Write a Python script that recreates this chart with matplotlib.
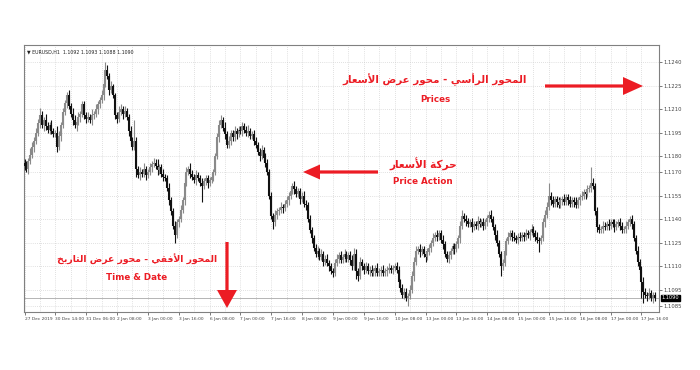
import numpy as np
import matplotlib
matplotlib.use("Agg")
import matplotlib.pyplot as plt
import matplotlib.transforms as mtransforms
from matplotlib.patches import FancyArrow

# ── EURUSD H1 bars, pips above 1.1000 ─────────────────────────────────────────
BASE = 1.1000
opens = [
    176, 174, 172, 177, 181, 186, 190, 195, 201, 206, 200, 203, 199, 197, 200, 196,
    194, 195, 186, 193, 200, 208, 214, 219, 212, 207, 203, 200, 202, 205, 207, 213,
    206, 204, 205, 203, 206, 207, 210, 213, 216, 219, 226, 235, 231, 222, 225, 219,
    206, 204, 208, 210, 207, 209, 205, 196, 190, 186, 190, 172, 168, 170, 169, 172,
    168, 170, 173, 175, 176, 174, 171, 173, 169, 167, 166, 160, 152, 145, 136, 130,
    138, 140, 146, 152, 163, 170, 172, 169, 167, 165, 168, 166, 163, 161, 164, 166,
    163, 165, 167, 170, 180, 192, 200, 203, 198, 194, 187, 190, 195, 192, 196, 194,
    197, 196, 199, 197, 195, 196, 193, 194, 190, 187, 183, 180, 184, 179, 176, 170,
    155, 142, 138, 143, 145, 146, 148, 147, 150, 152, 155, 158, 161, 159, 156, 158,
    153, 155, 150, 149, 140, 133, 128, 122, 118, 120, 116, 118, 113, 115, 112, 110,
    107, 106, 112, 115, 117, 114, 116, 118, 115, 117, 114, 110, 118, 107, 104, 113,
    110, 108, 110, 107, 108, 106, 107, 109, 106, 107, 108, 106, 107, 108, 109, 108,
    109, 110, 108, 100, 96, 92, 94, 90, 91, 95, 104, 113, 120, 121, 119, 121,
    118, 116, 119, 122, 125, 128, 130, 129, 131, 127, 124, 118, 115, 117, 120, 123,
    121, 124, 128, 136, 142, 140, 139, 137, 138, 135, 137, 136, 139, 137, 138, 136,
    138, 141, 143, 140, 135, 130, 125, 118, 110, 112, 120, 126, 129, 131, 129, 128,
    127, 129, 128, 130, 129, 131, 130, 132, 134, 131, 129, 127, 126, 128, 138, 143,
    148, 155, 152, 150, 153, 151, 149, 152, 153, 151, 154, 152, 150, 152, 151, 149,
    152, 154, 155, 157, 156, 159, 160, 163, 161, 145, 135, 133, 134, 136, 135, 137,
    136, 138, 137, 135, 137, 138, 136, 133, 134, 136, 138, 140, 137, 128, 120, 113,
    108, 100, 94, 92, 91, 93, 90, 92,
]
closes = [
    174, 172, 177, 181, 186, 190, 195, 201, 206, 200, 203, 199, 197, 200, 196, 194,
    195, 186, 193, 200, 208, 214, 219, 212, 207, 203, 200, 202, 205, 207, 213, 206,
    204, 205, 203, 206, 207, 210, 213, 216, 219, 226, 235, 231, 222, 225, 219, 206,
    204, 208, 210, 207, 209, 205, 196, 190, 186, 190, 172, 168, 170, 169, 172, 168,
    170, 173, 175, 176, 174, 171, 173, 169, 167, 166, 160, 152, 145, 136, 130, 138,
    140, 146, 152, 163, 170, 172, 169, 167, 165, 168, 166, 163, 161, 164, 166, 163,
    165, 167, 170, 180, 192, 200, 203, 198, 194, 187, 190, 195, 192, 196, 194, 197,
    196, 199, 197, 195, 196, 193, 194, 190, 187, 183, 180, 184, 179, 176, 170, 155,
    142, 138, 143, 145, 146, 148, 147, 150, 152, 155, 158, 161, 159, 156, 158, 153,
    155, 150, 149, 140, 133, 128, 122, 118, 120, 116, 118, 113, 115, 112, 110, 107,
    106, 112, 115, 117, 114, 116, 118, 115, 117, 114, 110, 118, 107, 104, 113, 110,
    108, 110, 107, 108, 106, 107, 109, 106, 107, 108, 106, 107, 108, 109, 108, 109,
    110, 108, 100, 96, 92, 94, 90, 91, 95, 104, 113, 120, 121, 119, 121, 118,
    116, 119, 122, 125, 128, 130, 129, 131, 127, 124, 118, 115, 117, 120, 123, 121,
    124, 128, 136, 142, 140, 139, 137, 138, 135, 137, 136, 139, 137, 138, 136, 138,
    141, 143, 140, 135, 130, 125, 118, 110, 112, 120, 126, 129, 131, 129, 128, 127,
    129, 128, 130, 129, 131, 130, 132, 134, 131, 129, 127, 126, 128, 138, 143, 148,
    155, 152, 150, 153, 151, 149, 152, 153, 151, 154, 152, 150, 152, 151, 149, 152,
    154, 155, 157, 156, 159, 160, 163, 161, 145, 135, 133, 134, 136, 135, 137, 136,
    138, 137, 135, 137, 138, 136, 133, 134, 136, 138, 140, 137, 128, 120, 113, 108,
    100, 94, 92, 91, 93, 90, 92, 90,
]
# wick lengths (pips) above / below the body
wick_up = [
    2, 3, 2, 4, 3, 2, 3, 3, 5, 3, 2, 4, 3, 2, 3, 2,
    2, 4, 3, 2, 3, 2, 2, 3, 2, 4, 3, 2, 3, 2, 2, 2,
    2, 3, 2, 4, 2, 3, 2, 2, 3, 3, 5, 3, 2, 3, 1, 1,
    2, 4, 3, 2, 3, 2, 2, 3, 2, 13, 2, 2, 3, 2, 4, 2,
    2, 3, 2, 3, 2, 4, 2, 2, 3, 2, 2, 3, 2, 2, 3, 2,
    2, 3, 2, 3, 3, 2, 4, 2, 2, 3, 2, 2, 3, 2, 2, 2,
    2, 3, 2, 2, 3, 3, 3, 2, 4, 2, 3, 2, 2, 3, 2, 2,
    2, 3, 2, 2, 4, 2, 2, 3, 2, 2, 2, 3, 2, 3, 2, 2,
    2, 2, 3, 2, 2, 3, 2, 2, 3, 2, 2, 2, 3, 2, 2, 2,
    2, 3, 2, 2, 3, 2, 2, 2, 3, 2, 3, 2, 2, 3, 2, 2,
    2, 3, 3, 2, 3, 2, 3, 2, 2, 3, 3, 4, 3, 2, 3, 2,
    2, 3, 2, 2, 3, 2, 2, 3, 2, 2, 3, 2, 2, 3, 2, 2,
    2, 3, 2, 2, 3, 2, 2, 2, 3, 3, 3, 3, 2, 3, 2, 2,
    2, 3, 2, 2, 3, 2, 3, 2, 2, 3, 2, 2, 3, 2, 2, 2,
    2, 2, 3, 4, 2, 3, 2, 2, 3, 2, 2, 3, 2, 2, 3, 2,
    2, 2, 3, 2, 2, 3, 2, 2, 3, 2, 2, 3, 2, 2, 3, 2,
    2, 3, 2, 2, 3, 2, 2, 3, 2, 2, 3, 2, 2, 3, 3, 3,
    8, 2, 3, 2, 2, 3, 2, 2, 3, 2, 2, 3, 2, 2, 3, 2,
    2, 3, 2, 2, 3, 2, 10, 3, 2, 3, 2, 2, 3, 2, 2, 3,
    2, 2, 3, 2, 2, 3, 2, 2, 3, 2, 2, 3, 2, 2, 3, 2,
    2, 3, 2, 2, 3, 2, 2, 2,
]
wick_dn = [
    3, 2, 3, 2, 2, 3, 2, 2, 3, 2, 4, 2, 2, 3, 2, 2,
    2, 3, 2, 3, 2, 2, 3, 2, 2, 3, 2, 4, 2, 3, 2, 2,
    3, 2, 2, 3, 2, 2, 3, 2, 2, 3, 2, 2, 3, 2, 2, 2,
    3, 2, 2, 3, 2, 2, 3, 2, 2, 2, 5, 2, 3, 2, 2, 3,
    2, 2, 3, 2, 2, 3, 2, 2, 3, 2, 2, 3, 2, 2, 5, 2,
    3, 2, 2, 3, 2, 2, 3, 2, 2, 3, 2, 2, 10, 2, 2, 3,
    2, 2, 3, 2, 2, 3, 2, 2, 3, 2, 2, 3, 2, 2, 3, 2,
    2, 3, 2, 2, 3, 2, 2, 3, 2, 2, 3, 2, 2, 3, 2, 2,
    2, 4, 2, 3, 2, 2, 3, 2, 2, 3, 2, 2, 3, 2, 2, 3,
    2, 2, 3, 2, 2, 3, 2, 2, 3, 2, 2, 3, 2, 2, 3, 2,
    3, 2, 2, 3, 2, 2, 3, 2, 2, 3, 2, 2, 5, 3, 2, 2,
    3, 2, 2, 3, 2, 2, 3, 2, 2, 3, 2, 2, 3, 2, 2, 3,
    2, 2, 3, 2, 2, 3, 2, 5, 2, 2, 3, 2, 2, 3, 2, 2,
    3, 2, 2, 3, 2, 2, 3, 2, 2, 3, 2, 2, 3, 2, 2, 3,
    2, 2, 3, 2, 2, 3, 2, 2, 3, 2, 2, 3, 2, 2, 3, 2,
    2, 3, 2, 2, 3, 2, 2, 6, 2, 2, 3, 2, 2, 3, 2, 2,
    3, 2, 2, 3, 2, 2, 3, 2, 2, 3, 2, 7, 2, 2, 3, 2,
    2, 3, 2, 2, 3, 2, 2, 3, 2, 2, 3, 2, 2, 3, 2, 2,
    3, 2, 2, 3, 2, 2, 3, 2, 2, 3, 2, 2, 3, 2, 2, 3,
    2, 2, 3, 2, 2, 3, 2, 2, 3, 2, 2, 3, 2, 2, 3, 2,
    10, 7, 2, 3, 2, 2, 3, 2,
]

# x labels every 16 bars
date_labels = [
    "27 Dec 2019", "30 Dec 14:00", "31 Dec 06:00", "2 Jan 08:00", "3 Jan 00:00",
    "3 Jan 16:00", "6 Jan 08:00", "7 Jan 00:00", "7 Jan 16:00", "8 Jan 08:00",
    "9 Jan 00:00", "9 Jan 16:00", "10 Jan 08:00", "13 Jan 00:00", "13 Jan 16:00",
    "14 Jan 08:00", "15 Jan 00:00", "15 Jan 16:00", "16 Jan 08:00", "17 Jan 00:00",
    "17 Jan 16:00",
]
price_ticks = [1.1240, 1.1225, 1.1210, 1.1195, 1.1180, 1.1170, 1.1155,
               1.1140, 1.1125, 1.1110, 1.1095, 1.1085]
last_price = 1.1090
info_line = "▼ EURUSD,H1  1.1092 1.1093 1.1088 1.1090"

title_v = "المحور الرأسي - محور عرض الأسعار"
title_pa = "حركة الأسعار"
title_h = "المحور الأفقي - محور عرض التاريخ"

RED = "#ec1c24"
UP_COLOR = "#8a8a8a"
DN_COLOR = "#111111"

# ── minimal Arabic shaping (presentation forms + RTL order) ───────────────────
FORMS = {
    "ا": ("\uFE8D", "\uFE8E", None, None),
    "أ": ("\uFE83", "\uFE84", None, None),
    "ل": ("\uFEDD", "\uFEDE", "\uFEDF", "\uFEE0"),
    "م": ("\uFEE1", "\uFEE2", "\uFEE3", "\uFEE4"),
    "ح": ("\uFEA1", "\uFEA2", "\uFEA3", "\uFEA4"),
    "و": ("\uFEED", "\uFEEE", None, None),
    "ر": ("\uFEAD", "\uFEAE", None, None),
    "س": ("\uFEB1", "\uFEB2", "\uFEB3", "\uFEB4"),
    "ي": ("\uFEF1", "\uFEF2", "\uFEF3", "\uFEF4"),
    "ع": ("\uFEC9", "\uFECA", "\uFECB", "\uFECC"),
    "ض": ("\uFEBD", "\uFEBE", "\uFEBF", "\uFEC0"),
    "ك": ("\uFED9", "\uFEDA", "\uFEDB", "\uFEDC"),
    "ة": ("\uFE93", "\uFE94", None, None),
    "ف": ("\uFED1", "\uFED2", "\uFED3", "\uFED4"),
    "ق": ("\uFED5", "\uFED6", "\uFED7", "\uFED8"),
    "ت": ("\uFE95", "\uFE96", "\uFE97", "\uFE98"),
    "خ": ("\uFEA5", "\uFEA6", "\uFEA7", "\uFEA8"),
}
LAM_ALEF = {"ا": ("\uFEFB", "\uFEFC"), "أ": ("\uFEF7", "\uFEF8")}


def shape(text):
    out = []
    i, n = 0, len(text)
    while i < n:
        c = text[i]
        if c not in FORMS:
            out.append(c)
            i += 1
            continue
        prev = text[i - 1] if i > 0 else None
        join_prev = prev in FORMS and FORMS[prev][2] is not None
        if c == "ل" and i + 1 < n and text[i + 1] in LAM_ALEF:
            lig = LAM_ALEF[text[i + 1]]
            out.append(lig[1] if join_prev else lig[0])
            i += 2
            continue
        nxt = text[i + 1] if i + 1 < n else None
        join_next = FORMS[c][2] is not None and nxt in FORMS
        iso, fin, ini, med = FORMS[c]
        if join_prev and join_next:
            out.append(med)
        elif join_prev:
            out.append(fin)
        elif join_next:
            out.append(ini)
        else:
            out.append(iso)
        i += 1
    return "".join(reversed(out))


# ── figure ────────────────────────────────────────────────────────────────────
fig = plt.figure(figsize=(7, 3.7), dpi=100)
ax = fig.add_axes([24 / 700, 1 - 312 / 370, 635 / 700, 267 / 370])

o = BASE + np.array(opens) / 1e4
c = BASE + np.array(closes) / 1e4
hi = np.maximum(o, c) + np.array(wick_up) / 1e4
lo = np.minimum(o, c) - np.array(wick_dn) / 1e4
x = np.arange(len(closes))
cols = np.where(c >= o, UP_COLOR, DN_COLOR)

ax.vlines(x, lo, hi, colors=cols, linewidth=0.8, zorder=3)
body_lo = np.minimum(o, c)
body_hi = np.maximum(np.maximum(o, c), body_lo + 0.4e-4)
ax.vlines(x, body_lo, body_hi, colors=cols, linewidth=1.5, zorder=3)

ax.axhline(last_price, color="#a8a8a8", linewidth=0.6, zorder=2)

ax.set_xlim(-0.26, 329.1)
ax.set_ylim(1.10810, 1.12508)

ax.set_xticks(np.arange(len(date_labels)) * 16)
ax.set_xticklabels(date_labels, ha="left")
ax.set_xticks(np.arange(0, len(closes), 8), minor=True)
ax.yaxis.tick_right()
ax.set_yticks(price_ticks)
ax.set_yticklabels([f"{p:.4f}" for p in price_ticks])

ax.tick_params(axis="x", which="major", labelsize=3.2, colors="#444444",
               length=2, width=0.5, pad=1.8)
ax.tick_params(axis="y", which="major", labelsize=3.8, colors="#444444",
               length=2, width=0.5, pad=1.5)
ax.tick_params(axis="x", which="minor", length=0)
ax.grid(True, which="both", axis="x", color="#c4c4c4", linestyle=(0, (1, 2)), linewidth=0.5)
ax.grid(True, which="major", axis="y", color="#c4c4c4", linestyle=(0, (1, 2)), linewidth=0.5)
ax.set_axisbelow(True)
for sp in ax.spines.values():
    sp.set_color("#808080")
    sp.set_linewidth(0.8)

trans = mtransforms.blended_transform_factory(ax.transAxes, ax.transData)
ax.text(1.004, last_price, f"{last_price:.4f}", transform=trans, fontsize=3.6,
        color="white", va="center", ha="left",
        bbox=dict(boxstyle="square,pad=0.15", fc="black", ec="black"))
ax.text(0.004, 0.985, info_line, transform=ax.transAxes, fontsize=3.4,
        color="#222222", va="top", ha="left")

# ── overlay annotations (pixel coordinates) ───────────────────────────────────
ov = fig.add_axes([0, 0, 1, 1])
ov.set_xlim(0, 700)
ov.set_ylim(370, 0)
ov.axis("off")
ov.patch.set_alpha(0)

ov.add_patch(FancyArrow(545, 86, 98, 0, width=3.2, head_width=18, head_length=20,
                        length_includes_head=True, color=RED, lw=0))
ov.add_patch(FancyArrow(378, 172, -75, 0, width=3.2, head_width=15, head_length=17,
                        length_includes_head=True, color=RED, lw=0))
ov.add_patch(FancyArrow(227, 242, 0, 66, width=3.2, head_width=20, head_length=18,
                        length_includes_head=True, color=RED, lw=0))

ar_font = ["DejaVu Sans"]
ov.text(435, 80, shape(title_v), family=ar_font, fontweight="bold", fontsize=7.4,
        color=RED, ha="center", va="center")
ov.text(435, 100, "Prices", fontweight="bold", fontsize=6.3, color=RED,
        ha="center", va="center")
ov.text(423, 164, shape(title_pa), family=ar_font, fontweight="bold", fontsize=7.6,
        color=RED, ha="center", va="center")
ov.text(423, 181, "Price Action", fontweight="bold", fontsize=6.3, color=RED,
        ha="center", va="center")
ov.text(137, 259, shape(title_h), family=ar_font, fontweight="bold", fontsize=6.7,
        color=RED, ha="center", va="center")
ov.text(137, 277, "Time & Date", fontweight="bold", fontsize=6.3, color=RED,
        ha="center", va="center")

fig.savefig("out.png", dpi=100, facecolor="white")
